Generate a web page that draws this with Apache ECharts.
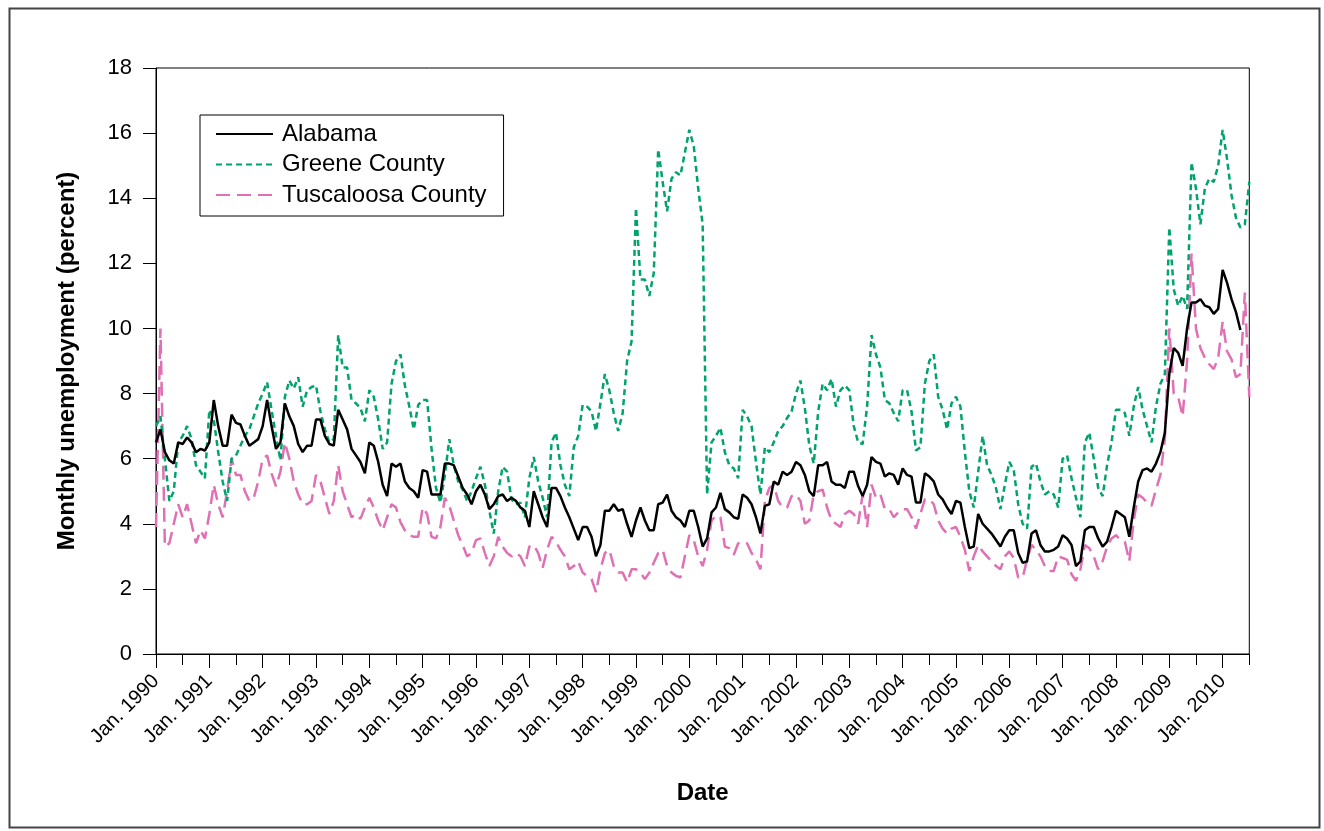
<!DOCTYPE html>
<html><head><meta charset="utf-8">
<script src="https://cdn.jsdelivr.net/npm/echarts@6/dist/echarts.min.js"></script>
<style>html,body{margin:0;padding:0;background:#fff}#c{width:1324px;height:831px}</style>
</head><body><div id="c"></div>
<script>
const years = [1990,1991,1992,1993,1994,1995,1996,1997,1998,1999,2000,2001,2002,2003,2004,2005,2006,2007,2008,2009,2010];
const monthNames = ['Jan.','Feb.','Mar.','Apr.','May','Jun.','Jul.','Aug.','Sep.','Oct.','Nov.','Dec.'];
const lastMonthIndex2010 = 6; // data run through Jul. 2010
const yTicks = [0,2,4,6,8,10,12,14,16,18];

const alabama = [
 6.5,6.9,6.2,5.95,5.85,6.5,6.45,6.65,6.5,6.2,6.3,6.25,
 6.5,7.8,7.0,6.4,6.4,7.35,7.1,7.05,6.7,6.4,6.5,6.6,
 7.0,7.8,7.0,6.3,6.5,7.7,7.3,7.0,6.45,6.2,6.4,6.4,
 7.2,7.2,6.7,6.45,6.4,7.5,7.2,6.9,6.3,6.1,5.9,5.55,
 6.5,6.4,5.9,5.2,4.85,5.85,5.75,5.85,5.3,5.1,5.0,4.8,
 5.65,5.6,4.9,4.9,4.9,5.85,5.85,5.8,5.45,5.1,4.9,4.6,
 5.0,5.2,4.9,4.45,4.6,4.85,4.9,4.7,4.8,4.7,4.5,4.4,
 3.9,5.0,4.6,4.2,3.9,5.1,5.1,4.85,4.5,4.2,3.85,3.5,
 3.9,3.9,3.6,3.0,3.35,4.4,4.4,4.6,4.4,4.45,4.0,3.6,
 4.1,4.5,4.1,3.8,3.8,4.6,4.65,4.9,4.4,4.2,4.1,3.9,
 4.4,4.4,3.9,3.3,3.55,4.35,4.5,4.95,4.45,4.35,4.2,4.15,
 4.9,4.8,4.6,4.2,3.7,4.55,4.6,5.3,5.2,5.6,5.5,5.6,
 5.9,5.8,5.5,5.0,4.85,5.8,5.8,5.9,5.3,5.2,5.2,5.1,
 5.6,5.6,5.15,4.85,5.2,6.05,5.9,5.85,5.45,5.55,5.5,5.2,
 5.7,5.5,5.45,4.65,4.65,5.55,5.45,5.3,4.9,4.75,4.5,4.3,
 4.7,4.65,3.9,3.25,3.3,4.3,4.0,3.85,3.7,3.5,3.3,3.6,
 3.8,3.8,3.1,2.8,2.85,3.7,3.8,3.35,3.15,3.15,3.2,3.3,
 3.65,3.55,3.35,2.7,2.85,3.8,3.9,3.9,3.55,3.3,3.45,3.9,
 4.4,4.3,4.2,3.6,4.5,5.3,5.65,5.7,5.6,5.85,6.2,6.8,
 8.6,9.4,9.25,8.85,10.0,10.8,10.8,10.9,10.7,10.65,10.45,10.6,
 11.8,11.4,10.9,10.5,9.95
];
const greene = [
 7.0,7.3,6.0,4.7,5.0,6.5,6.7,7.0,6.6,5.8,5.6,5.4,
 7.5,7.2,6.2,5.3,4.7,6.0,6.1,6.4,6.7,6.9,7.3,7.7,
 8.0,8.35,7.5,6.7,5.95,7.9,8.4,8.15,8.5,7.6,8.1,8.2,
 8.25,7.45,6.9,6.5,6.6,9.8,8.8,8.8,7.8,7.7,7.55,7.15,
 8.1,7.9,7.2,6.3,6.5,8.3,9.0,9.2,8.25,7.6,6.9,7.65,
 7.8,7.8,6.3,5.1,4.65,5.5,6.6,5.8,5.3,5.05,4.7,5.0,
 5.4,5.75,5.2,4.4,3.7,5.0,5.75,5.6,4.75,4.6,4.65,4.2,
 5.4,6.05,5.3,4.8,4.2,6.5,6.8,5.8,5.2,4.85,6.35,6.7,
 7.65,7.6,7.45,6.85,7.7,8.6,8.1,7.4,6.85,7.4,9.0,9.6,
 13.7,11.5,11.5,11.0,11.7,15.5,14.5,13.6,14.6,14.8,14.7,15.4,
 16.1,15.6,14.3,13.2,4.9,6.5,6.7,6.95,6.2,5.8,5.7,5.4,
 7.5,7.3,7.0,5.9,4.9,6.35,6.2,6.5,6.85,7.0,7.25,7.45,
 8.0,8.4,7.55,6.4,5.85,7.45,8.3,8.1,8.45,7.6,8.1,8.25,
 8.1,7.0,6.5,6.45,7.6,9.8,9.2,8.8,7.8,7.7,7.4,7.15,
 8.1,8.1,7.45,6.25,6.35,8.3,9.0,9.2,7.9,7.5,6.9,7.7,
 7.9,7.6,6.2,5.0,4.5,5.6,6.7,5.8,5.5,5.1,4.45,5.2,
 5.9,5.65,4.6,4.0,3.85,5.75,5.85,5.3,4.9,5.0,4.9,4.5,
 6.0,6.1,5.4,4.8,4.2,6.5,6.8,6.0,5.1,4.85,5.8,6.5,
 7.5,7.5,7.4,6.7,7.6,8.2,7.5,7.0,6.5,7.6,8.3,8.6,
 13.1,11.2,10.7,11.0,10.6,15.1,14.3,13.2,14.3,14.6,14.5,15.0,
 16.1,15.2,14.1,13.4,13.1,13.2,14.5
];
const tuscaloosa = [
 3.9,10.0,3.3,3.4,4.0,4.6,4.2,4.6,4.0,3.4,3.8,3.55,
 4.3,5.2,4.6,4.2,5.0,6.0,5.5,5.5,5.0,4.7,4.8,5.3,
 6.0,6.1,5.55,5.15,5.6,6.5,6.0,5.3,4.9,4.6,4.6,4.7,
 5.5,5.3,4.8,4.3,4.7,5.8,5.0,4.6,4.2,4.3,4.15,4.5,
 4.8,4.5,4.1,3.8,4.2,4.6,4.5,4.05,3.8,3.65,3.6,3.6,
 4.5,4.3,3.6,3.55,3.9,4.8,4.55,4.1,3.65,3.35,3.0,3.1,
 3.5,3.55,3.1,2.7,3.0,3.6,3.3,3.1,3.0,3.1,3.0,2.7,
 3.3,3.35,3.1,2.65,3.2,3.6,3.45,3.2,3.0,2.6,2.7,2.85,
 2.5,2.4,2.3,1.9,2.6,3.1,3.2,2.7,2.5,2.5,2.2,2.6,
 2.6,2.5,2.3,2.5,2.8,3.1,3.2,2.7,2.5,2.4,2.35,3.0,
 3.65,3.5,3.0,2.7,3.2,4.1,4.25,4.2,3.3,3.25,3.05,3.4,
 3.45,3.4,3.1,2.9,2.6,4.7,5.1,5.2,4.7,4.5,4.5,4.85,
 4.9,4.7,4.0,4.1,4.9,5.0,5.05,4.5,4.1,4.0,3.9,4.3,
 4.4,4.3,4.0,4.9,3.9,5.2,4.8,4.9,4.45,4.45,4.2,4.35,
 4.45,4.45,4.2,3.85,4.3,4.75,4.75,4.6,4.1,3.85,3.7,3.85,
 3.9,3.6,3.2,2.55,3.0,3.35,3.15,3.0,2.85,2.7,2.6,3.0,
 3.15,2.95,2.35,2.35,2.9,3.35,3.2,3.0,2.7,2.55,2.55,3.0,
 2.95,2.9,2.45,2.25,2.6,3.35,3.25,3.0,2.6,2.85,3.3,3.55,
 3.65,3.5,3.45,2.85,4.1,4.9,4.8,4.65,4.55,5.05,5.5,6.6,
 10.0,8.0,7.9,7.3,9.0,12.3,10.0,9.4,9.1,8.9,8.75,9.1,
 10.2,9.3,9.05,8.5,8.6,11.1,7.9
];

const categories = [];
years.forEach(y => {
  monthNames.forEach((m, k) => {
    if (y < 2010 || k <= lastMonthIndex2010) categories.push(m + ' ' + y);
  });
});

const FONT = 'Liberation Sans, Arial, sans-serif';
const chart = echarts.init(document.getElementById('c'), null, {renderer: 'canvas'});
const option = {
  animation: false,
  backgroundColor: '#ffffff',
  graphic: [{
    type: 'rect', left: 7, top: 6, z: -1,
    shape: {x: 0, y: 0, width: 1310, height: 819},
    style: {fill: 'none', stroke: '#444', lineWidth: 2}
  }],
  grid: {left: 156, right: 74.7, top: 68, bottom: 177, show: true, borderColor: '#000', borderWidth: 1, backgroundColor: 'transparent'},
  legend: {
    left: 200, top: 115, orient: 'vertical',
    borderColor: '#000', borderWidth: 1,
    padding: [7, 17, 9, 15],
    itemWidth: 57, itemHeight: 14, itemGap: 6.5,
    itemStyle: {opacity: 0},
    textStyle: {fontFamily: FONT, fontSize: 24, lineHeight: 24, color: '#000', padding: [0, 0, 0, 4]},
    data: ['Alabama', 'Greene County', 'Tuscaloosa County']
  },
  xAxis: [{
    type: 'category', data: categories, boundaryGap: false,
    name: 'Date', nameLocation: 'middle', nameGap: 127,
    nameTextStyle: {fontFamily: FONT, fontSize: 24, fontWeight: 'bold', color: '#000'},
    axisLine: {lineStyle: {color: '#000', width: 1}},
    axisTick: {show: true, length: 14, interval: i => i % 12 === 0, lineStyle: {color: '#000'}},
    axisLabel: {
      interval: i => i % 12 === 0, rotate: 45, margin: 24,
      padding: [14, 0, 0, 0],
      fontFamily: FONT, fontSize: 20, color: '#000',
      formatter: v => v
    },
    splitLine: {show: false}
  }, {
    type: 'category', data: categories, boundaryGap: false, position: 'bottom',
    axisLine: {show: false},
    axisTick: {show: true, length: 11, interval: i => i % 6 === 0, lineStyle: {color: '#000'}},
    axisLabel: {show: false}, splitLine: {show: false}
  }],
  yAxis: {
    type: 'value', min: 0, max: 18, interval: 2,
    name: 'Monthly unemployment (percent)', nameLocation: 'middle', nameGap: 77, nameRotate: 90,
    nameTextStyle: {fontFamily: FONT, fontSize: 24, fontWeight: 'bold', color: '#000'},
    axisLine: {show: true, lineStyle: {color: '#000', width: 1}},
    axisTick: {show: true, length: 13, lineStyle: {color: '#000'}},
    axisLabel: {margin: 24, fontFamily: FONT, fontSize: 22, color: '#000'},
    splitLine: {show: false}
  },
  series: [{
    name: 'Alabama', type: 'line', data: alabama, symbol: 'none', showSymbol: false,
    lineStyle: {color: '#000', width: 2.5, type: 'solid'}, itemStyle: {color: '#000'}, z: 3
  }, {
    name: 'Greene County', type: 'line', data: greene, symbol: 'none', showSymbol: false,
    lineStyle: {color: '#00A36C', width: 2.5, type: [6, 4]}, itemStyle: {color: '#00A36C'}, z: 2
  }, {
    name: 'Tuscaloosa County', type: 'line', data: tuscaloosa, symbol: 'none', showSymbol: false,
    lineStyle: {color: '#E070B4', width: 2.5, type: [14, 7]}, itemStyle: {color: '#E070B4'}, z: 1
  }]
};
chart.setOption(option);
</script>
</body></html>
